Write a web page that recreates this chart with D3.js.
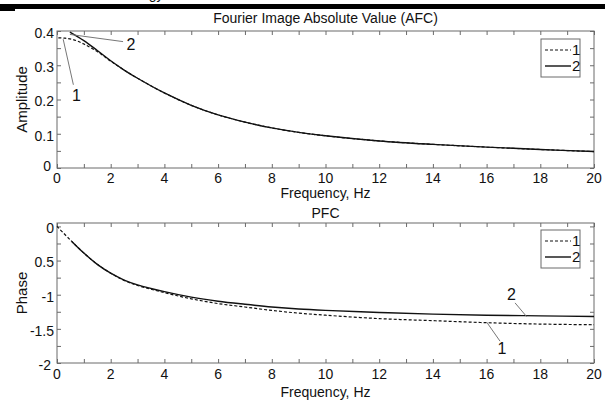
<!DOCTYPE html>
<meta charset="utf-8">
<script src="https://d3js.org/d3.v7.min.js"></script>
<style>
  body { margin: 0; background: #fff; }
  text { font-family: "Liberation Sans", Arial, sans-serif; fill: #111; }
</style>
<div id="chart"></div>
<script>

// frequencies / values
var ampFreq1 = [0.05, 0.3, 0.6, 1, 1.5, 2, 2.5, 3, 4, 5, 6, 7, 8, 9, 10, 12, 14, 16, 18, 20];
var amp1     = [0.380, 0.379, 0.375, 0.362, 0.340, 0.312, 0.286, 0.262, 0.219, 0.183, 0.155, 0.134, 0.117, 0.104, 0.094, 0.079, 0.069, 0.061, 0.054, 0.048];
var ampFreq2 = [0.48, 1, 1.5, 2, 2.5, 3, 4, 5, 6, 7, 8, 9, 10, 12, 14, 16, 18, 20];
var amp2     = [0.397, 0.372, 0.343, 0.313, 0.286, 0.262, 0.219, 0.183, 0.155, 0.134, 0.117, 0.104, 0.094, 0.079, 0.069, 0.061, 0.054, 0.048];

var phFreq1 = [0, 0.5, 1, 1.5, 2, 2.5, 3, 4, 5, 6, 7, 8, 9, 10, 12, 14, 16, 18, 20];
var phase1  = [0, -0.20, -0.39, -0.555, -0.685, -0.79, -0.865, -0.97, -1.06, -1.13, -1.18, -1.23, -1.27, -1.30, -1.35, -1.38, -1.41, -1.43, -1.44];
var phFreq2 = [0.55, 1, 1.5, 2, 2.5, 3, 4, 5, 6, 7, 8, 9, 10, 12, 14, 16, 18, 20];
var phase2  = [-0.22, -0.39, -0.555, -0.685, -0.785, -0.855, -0.955, -1.035, -1.095, -1.14, -1.18, -1.21, -1.23, -1.26, -1.285, -1.30, -1.31, -1.32];

// ticks
var xTicks = [0, 2, 4, 6, 8, 10, 12, 14, 16, 18, 20];
var xMinor = d3.range(0, 21, 1);
var ampTicks = [0, 0.1, 0.2, 0.3, 0.4];
var ampTickLabels = ["0", "0.1", "0.2", "0.3", "0.4"];
var ampMinor = d3.range(0, 0.401, 0.05);
var phTicks = [0, -0.5, -1, -1.5, -2];
var phTickLabels = ["0", "0.5", "-1", "-1.5", "-2"];
var phMinor = d3.range(-2, 0.01, 0.25);

var W = 605, H = 401;
var svg = d3.select("#chart").append("svg")
    .attr("width", W)
    .attr("height", H);

// cut-off strip from the page above
svg.append("rect").attr("x", 0).attr("y", 4).attr("width", W).attr("height", 5).attr("fill", "#000");
svg.append("rect").attr("x", 0).attr("y", 8).attr("width", 15).attr("height", 3).attr("fill", "#000");
svg.append("text").attr("x", 141).attr("y", -1).style("font-size", "14px").text("ogy");

var x = d3.scaleLinear().domain([0, 20]).range([57, 594]);
var yA = d3.scaleLinear().domain([0, 0.4]).range([168, 31]);
var yP = d3.scaleLinear().domain([-2, 0.05]).range([363, 223]);

var axisColor = "#6a6a6a";

function drawPanel(y, opts) {
  var g = svg.append("g");
  var x0 = x.range()[0], x1 = x.range()[1];
  var yb = y.range()[0], yt = y.range()[1];

  // box
  g.append("rect")
    .attr("x", x0).attr("y", yt)
    .attr("width", x1 - x0).attr("height", yb - yt)
    .attr("fill", "none").attr("stroke", axisColor).attr("stroke-width", 1);

  // inward ticks all sides
  var bottom = g.append("g").attr("transform", "translate(0," + yb + ")")
    .call(d3.axisBottom(x).tickValues(xMinor).tickSize(-4).tickFormat(""));
  var top = g.append("g").attr("transform", "translate(0," + yt + ")")
    .call(d3.axisTop(x).tickValues(xMinor).tickSize(-4).tickFormat(""));
  var left = g.append("g").attr("transform", "translate(" + x0 + ",0)")
    .call(d3.axisLeft(y).tickValues(opts.minor).tickSize(-4).tickFormat(""));
  var right = g.append("g").attr("transform", "translate(" + x1 + ",0)")
    .call(d3.axisRight(y).tickValues(opts.minor).tickSize(-4).tickFormat(""));
  [bottom, top, left, right].forEach(function(a) {
    a.select(".domain").remove();
    a.selectAll("line").attr("stroke", axisColor);
  });

  // tick labels
  g.selectAll(".xl").data(xTicks).enter().append("text")
    .attr("x", function(d) { return x(d); })
    .attr("y", yb + opts.tickDy)
    .attr("dy", "0.35em")
    .attr("text-anchor", "middle")
    .style("font-size", "14px")
    .text(function(d) { return d; });
  g.selectAll(".yl").data(opts.ticks).enter().append("text")
    .attr("x", function(d) { return d === opts.corner ? x0 - 6 : x0 - 3; })
    .attr("y", function(d) { return y(d) + (d === opts.corner ? opts.cornerDy : 2); })
    .attr("dy", "0.35em")
    .attr("text-anchor", "end")
    .style("font-size", "14px")
    .text(function(d, i) { return opts.tickLabels[i]; });

  // titles
  g.append("text")
    .attr("x", (x0 + x1) / 2).attr("y", yt - opts.titleDy)
    .attr("text-anchor", "middle")
    .style("font-size", "14px")
    .text(opts.title);
  g.append("text")
    .attr("x", (x0 + x1) / 2).attr("y", yb + opts.xlabelDy)
    .attr("text-anchor", "middle")
    .style("font-size", "14px")
    .text("Frequency, Hz");
  g.append("text")
    .attr("transform", "translate(" + 27 + "," + ((yb + yt) / 2) + ") rotate(-90)")
    .attr("text-anchor", "middle")
    .style("font-size", "15px")
    .text(opts.ylabel);

  // curves
  var line = d3.line()
    .x(function(d) { return x(d[0]); })
    .y(function(d) { return y(d[1]); })
    .curve(d3.curveCatmullRom.alpha(0.5));
  g.append("path")
    .datum(d3.zip(opts.f1, opts.v1))
    .attr("d", line)
    .attr("fill", "none").attr("stroke", "#111").attr("stroke-width", 1.2)
    .attr("stroke-dasharray", "3,2");
  g.append("path")
    .datum(d3.zip(opts.f2, opts.v2))
    .attr("d", line)
    .attr("fill", "none").attr("stroke", "#111").attr("stroke-width", 1.4);

  // leader annotations
  opts.notes.forEach(function(n) {
    g.append("line")
      .attr("x1", x(n.from[0])).attr("y1", y(n.from[1]))
      .attr("x2", x(n.to[0])).attr("y2", y(n.to[1]))
      .attr("stroke", "#777").attr("stroke-width", 1);
    g.append("text")
      .attr("x", x(n.at[0])).attr("y", y(n.at[1]))
      .attr("dy", "0.35em")
      .attr("text-anchor", "middle")
      .style("font-size", "16px")
      .text(n.label);
  });

  // legend
  var lx = opts.legend[0], ly = opts.legend[1];
  var lg = g.append("g").attr("transform", "translate(" + lx + "," + ly + ")");
  lg.append("rect").attr("width", 39).attr("height", 38)
    .attr("fill", "#fff").attr("stroke", axisColor);
  lg.append("line").attr("x1", 4).attr("x2", 30).attr("y1", 11).attr("y2", 11)
    .attr("stroke", "#111").attr("stroke-width", 1.2).attr("stroke-dasharray", "3,2");
  lg.append("line").attr("x1", 4).attr("x2", 30).attr("y1", 27).attr("y2", 27)
    .attr("stroke", "#111").attr("stroke-width", 1.4);
  lg.append("text").attr("x", 31).attr("y", 11).attr("dy", "0.35em")
    .style("font-size", "15px").text("1");
  lg.append("text").attr("x", 31).attr("y", 27).attr("dy", "0.35em")
    .style("font-size", "15px").text("2");
}

drawPanel(yA, {
  title: "Fourier Image Absolute Value (AFC)",
  ylabel: "Amplitude",
  ticks: ampTicks, tickLabels: ampTickLabels, minor: ampMinor,
  corner: 0, cornerDy: -2,
  tickDy: 10, xlabelDy: 30, titleDy: 8,
  f1: ampFreq1, v1: amp1, f2: ampFreq2, v2: amp2,
  legend: [541, 39],
  notes: [
    {from: [0.48, 0.39], to: [2.46, 0.369], at: [2.75, 0.36], label: "2"},
    {from: [0.23, 0.376], to: [0.61, 0.243], at: [0.72, 0.213], label: "1"}
  ]
});

drawPanel(yP, {
  title: "PFC",
  ylabel: "Phase",
  ticks: phTicks, tickLabels: phTickLabels, minor: phMinor,
  corner: -2, cornerDy: 2,
  tickDy: 11, xlabelDy: 34, titleDy: 5,
  f1: phFreq1, v1: phase1, f2: phFreq2, v2: phase2,
  legend: [541, 230],
  notes: [
    {from: [17.49, -1.32], to: [17.06, -1.12], at: [16.93, -1.0], label: "2"},
    {from: [16.0, -1.40], to: [16.5, -1.68], at: [16.57, -1.78], label: "1"}
  ]
});

</script>
